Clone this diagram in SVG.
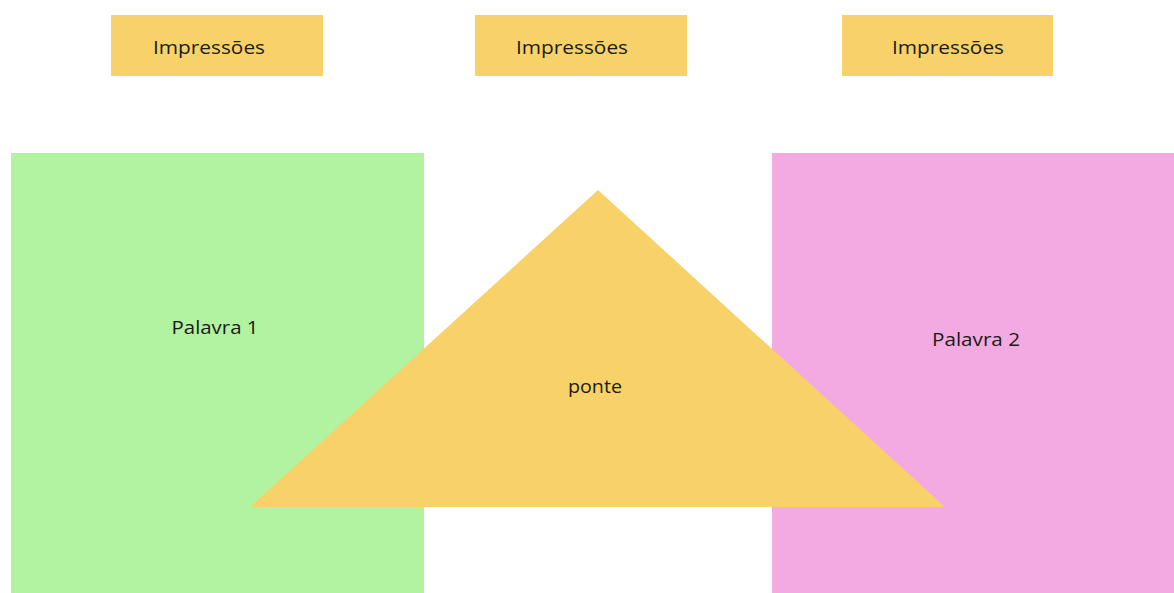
<svg xmlns="http://www.w3.org/2000/svg" width="1174" height="593" viewBox="0 0 1174 593">
<style>
.lbl{font-family:"Open Sans","Noto Sans","Liberation Sans",sans-serif;font-size:18px;font-weight:500;fill:#1b1b12;text-anchor:middle}
.imp{fill:#F8D268}
</style>
<rect width="1174" height="593" fill="#ffffff"/>
<g id="impressoes1"><rect class="imp" x="111" y="15" width="212" height="61"/><text class="lbl" x="209" y="54" textLength="112" lengthAdjust="spacingAndGlyphs">Impressões</text></g>
<g id="impressoes2"><rect class="imp" x="475" y="15" width="212" height="61"/><text class="lbl" x="572" y="54" textLength="112" lengthAdjust="spacingAndGlyphs">Impressões</text></g>
<g id="impressoes3"><rect class="imp" x="842" y="15" width="211" height="61"/><text class="lbl" x="948" y="54" textLength="112" lengthAdjust="spacingAndGlyphs">Impressões</text></g>
<g id="palavra1"><rect x="11" y="153" width="413" height="440" fill="#B1F3A0"/><text class="lbl" x="215" y="334" textLength="87" lengthAdjust="spacingAndGlyphs">Palavra 1</text></g>
<g id="palavra2"><rect x="772" y="153" width="402" height="440" fill="#F3AAE2"/><text class="lbl" x="976" y="346" textLength="88" lengthAdjust="spacingAndGlyphs">Palavra 2</text></g>
<g id="ponte"><polygon points="598,190 250,507 945,507" fill="#F8D268"/><text class="lbl" x="595" y="393" textLength="54" lengthAdjust="spacingAndGlyphs">ponte</text></g>
<g id="connectors"></g>
</svg>
